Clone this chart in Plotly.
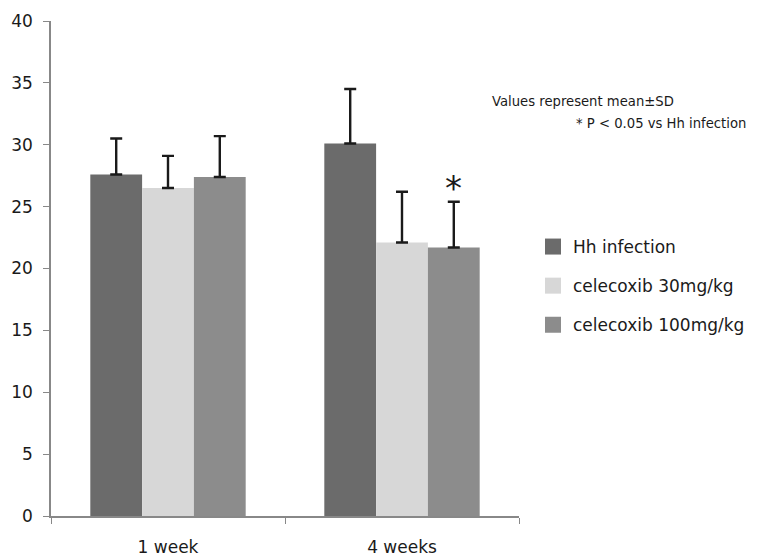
import plotly.graph_objects as go

categories = ["1 week", "4 weeks"]
series_names = ["Hh infection", "celecoxib 30mg/kg", "celecoxib 100mg/kg"]
hh_mean = [27.6, 30.1]
hh_sd = [2.9, 4.4]
c30_mean = [26.5, 22.1]
c30_sd = [2.6, 4.1]
c100_mean = [27.4, 21.7]
c100_sd = [3.3, 3.7]
colors = ["#6b6b6b", "#d7d7d7", "#8c8c8c"]
y_ticks = [0, 5, 10, 15, 20, 25, 30, 35, 40]
note_lines = ["Values represent mean\u00b1SD", "* P < 0.05 vs Hh infection"]

FONT = "DejaVu Sans, sans-serif"
BARGAP = 0.336

W, H = 760, 557
OFF = 8  # default page body margin
# target plot area in page pixels: x 51..519, y 21..516
L = 51 - OFF
T = 21 - OFF
R = W - (519 - OFF)
B = H - (516 - OFF)
pw, ph = W - L - R, H - T - B


def px2paper(px, py):
    return ((px - OFF) - L) / pw, 1 - ((py - OFF) - T) / ph


fig = go.Figure()
for i, (name, m, sd) in enumerate(zip(series_names,
                                       [hh_mean, c30_mean, c100_mean],
                                       [hh_sd, c30_sd, c100_sd])):
    fig.add_trace(go.Bar(
        x=categories, y=m, name=name, legendgroup=name, showlegend=False,
        marker=dict(color=colors[i], line=dict(width=0)),
        error_y=dict(type="data", symmetric=False, array=sd,
                     arrayminus=[0] * len(sd), color="#1a1a1a",
                     thickness=2.4, width=6),
    ))
    # legend entry with a larger square swatch
    fig.add_trace(go.Scatter(
        x=[None], y=[None], mode="markers", name=name, legendgroup=name,
        marker=dict(symbol="square", size=17, color=colors[i]),
        hoverinfo="skip",
    ))

# significance star on 4 weeks, celecoxib 100mg/kg
bar_w = (1 - BARGAP) / 3
fig.add_annotation(x=1 + bar_w, y=c100_mean[1] + c100_sd[1], xref="x", yref="y",
                   text="*", showarrow=False, yanchor="bottom", yshift=-8,
                   font=dict(size=34, color="#1a1a1a", family=FONT))

for (px, py), txt in zip([(490, 102), (574, 123)], note_lines):
    ax, ay = px2paper(px, py)
    fig.add_annotation(x=ax, y=ay, xref="paper", yref="paper", text=txt,
                       showarrow=False, xanchor="left", yanchor="middle",
                       font=dict(size=13.2, color="#1a1a1a", family=FONT))

lx, ly = px2paper(533, 229)
fig.update_layout(
    width=W, height=H,
    margin=dict(l=L, r=R, t=T, b=B, autoexpand=False),
    plot_bgcolor="white", paper_bgcolor="white",
    barmode="group", bargap=BARGAP, bargroupgap=0,
    font=dict(family=FONT, color="#1a1a1a", size=16),
    showlegend=True,
    legend=dict(x=lx, y=ly, xanchor="left", yanchor="top",
                font=dict(size=17, family=FONT, color="#1a1a1a"),
                tracegroupgap=14, traceorder="grouped", itemsizing="trace",
                itemwidth=30,
                bgcolor="rgba(0,0,0,0)"),
    xaxis=dict(showline=True, linecolor="#888888", linewidth=1.5,
               ticks="outside", tickson="boundaries", ticklen=6, tickcolor="#888888",
               tickfont=dict(size=17), showgrid=False, automargin=False,
               ticklabelstandoff=15),
    yaxis=dict(range=[0, 40], tickvals=y_ticks, showline=True, linecolor="#888888",
               linewidth=1.5, ticks="outside", ticklen=6, tickcolor="#888888",
               tickfont=dict(size=17), showgrid=False, zeroline=False,
               automargin=False, ticklabelstandoff=7),
)

fig.write_html("out.html")
